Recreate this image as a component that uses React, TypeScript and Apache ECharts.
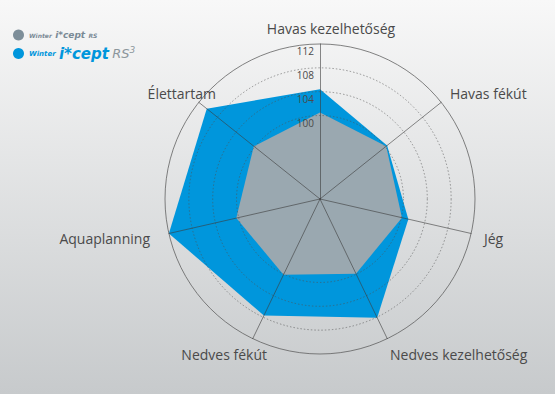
import React, { useEffect, useRef } from "react";
import * as echarts from "echarts";

// Indicators in counter-clockwise order starting at the top (ECharts radar default direction)
const indicatorNames = [
  "Havas kezelhetőség",
  "Élettartam",
  "Aquaplanning",
  "Nedves fékút",
  "Nedves kezelhetőség",
  "Jég",
  "Havas fékút",
];
const seriesNames = ["Winter i*cept RS", "Winter i*cept RS³"];
const valuesRS = [100.5, 100.2, 100.4, 100.1, 99.9, 100.1, 100.2];
const valuesRS3 = [104.4, 110.3, 112, 107.7, 108.1, 101.2, 100.4];
const tickLabels = [100, 104, 108, 112];
const axisMin = 86;
const axisMax = 112;

// label layout for indicator names (text anchors)
const nameLayout: Record<string, { x: number; y: number; align: string }> = {
  "Havas kezelhetőség": { x: 331, y: 28, align: "center" },
  "Havas fékút": { x: 450, y: 93, align: "left" },
  "Jég": { x: 484, y: 238, align: "left" },
  "Nedves kezelhetőség": { x: 390, y: 354, align: "left" },
  "Nedves fékút": { x: 267, y: 354, align: "right" },
  "Aquaplanning": { x: 150, y: 238, align: "right" },
  "Élettartam": { x: 216, y: 93, align: "right" },
};

export default function App() {
  const ref = useRef<HTMLDivElement>(null);
  useEffect(() => {
    if (!ref.current) return;
    const chart = echarts.init(ref.current, undefined, { renderer: "svg" });
    const ringCount = Math.round((axisMax - axisMin) / 2) + 1;
    const ringColors: string[] = [];
    for (let i = 0; i < ringCount; i++) {
      const v = axisMin + i * 2;
      ringColors.push(tickLabels.indexOf(v) >= 0 && v !== axisMax ? "rgba(80,80,80,0.55)" : "rgba(0,0,0,0)");
    }
    const center = ["320", "199"];
    const font = "'Open Sans', 'Noto Sans', sans-serif";
    chart.setOption({
      animation: false,
      backgroundColor: new echarts.graphic.LinearGradient(0, 0, 0, 1, [
        { offset: 0, color: "#f8f8f8" },
        { offset: 1, color: "#c7cacc" },
      ]),
      legend: {
        orient: "vertical",
        left: 8,
        top: 24,
        itemGap: 4,
        itemWidth: 11,
        itemHeight: 11,
        icon: "circle",
        data: seriesNames,
        formatter: (name: string) => {
          if (name === seriesNames[0]) return "{a|Winter} {b|i*cept} {c|RS}";
          return "{d|Winter} {e|i*cept} {f|RS}{g|3}";
        },
        textStyle: {
          rich: {
            a: { fontFamily: "DejaVu Sans", fontWeight: "bold", fontStyle: "italic", fontSize: 6, color: "#7a8a96" },
            b: { fontFamily: "DejaVu Sans", fontWeight: "bold", fontStyle: "italic", fontSize: 9, color: "#7a8a96" },
            c: { fontFamily: "DejaVu Sans", fontWeight: "bold", fontStyle: "italic", fontSize: 6, color: "#7a8a96" },
            d: { fontFamily: "DejaVu Sans", fontWeight: "bold", fontStyle: "italic", fontSize: 7, color: "#0096dc" },
            e: { fontFamily: "DejaVu Sans", fontWeight: "bold", fontStyle: "italic", fontSize: 15, color: "#0096dc" },
            f: { fontFamily: "DejaVu Sans", fontStyle: "italic", fontSize: 13, color: "#8c969c" },
            g: { fontFamily: "DejaVu Sans", fontStyle: "italic", fontSize: 9, color: "#8c969c", verticalAlign: "top", padding: [0, 0, 8, 0] },
          },
        },
      },
      radar: [
        {
          center,
          radius: 155,
          startAngle: 90,
          z: 3,
          shape: "circle",
          splitNumber: Math.round((axisMax - axisMin) / 2),
          indicator: indicatorNames.map((n, i) => {
            const ind: any = { name: n, min: axisMin, max: axisMax };
            if (i === 0) {
              ind.axisLabel = {
                show: true,
                formatter: (v: number) => (tickLabels.indexOf(Math.round(v)) >= 0 && Math.abs(v - Math.round(v)) < 1e-6 ? String(Math.round(v)) : ""),
              };
            }
            return ind;
          }),
          axisName: { show: false },
          axisLine: { lineStyle: { color: "rgba(60,60,60,0.6)", width: 1 } },
          splitLine: { lineStyle: { color: ringColors, width: 1, type: [1.5, 2] } },
          splitArea: { show: false },
          axisTick: { show: false },
          axisLabel: {
            show: false,
            color: "#4a4a4a",
            fontSize: 10,
            fontFamily: font,
            margin: 6,
            verticalAlign: "top",
            padding: [2, 0, 0, 0],
          },
        },
        {
          center,
          radius: 155,
          startAngle: 90,
          z: 3,
          shape: "circle",
          splitNumber: 1,
          indicator: indicatorNames.map((n) => ({ name: n, min: axisMin, max: axisMax })),
          axisName: { show: false },
          axisLine: { show: false },
          splitLine: { lineStyle: { color: ["rgba(0,0,0,0)", "rgba(90,90,90,0.75)"], width: 1 } },
          splitArea: { show: false },
          axisTick: { show: false },
          axisLabel: { show: false },
        },
      ],
      series: [
        {
          type: "radar",
          radarIndex: 0,
          symbol: "none",
          z: 2,
          data: [
            {
              name: seriesNames[1],
              value: valuesRS3,
              itemStyle: { color: "#0096dc" },
              lineStyle: { width: 0, color: "#0096dc" },
              areaStyle: { color: "#0096dc", opacity: 1 },
            },
            {
              name: seriesNames[0],
              value: valuesRS,
              itemStyle: { color: "#7d8e99" },
              lineStyle: { width: 0, color: "#9aa8b0" },
              areaStyle: { color: "#9aa8b0", opacity: 1 },
            },
          ],
        },
      ],
      graphic: indicatorNames.map((n) => ({
        type: "text",
        x: nameLayout[n].x,
        y: nameLayout[n].y,
        z: 5,
        style: {
          text: n,
          fill: "#4a4a4a",
          fontSize: 14,
          fontFamily: font,
          align: nameLayout[n].align,
          verticalAlign: "middle",
        },
      })),
    });
    return () => chart.dispose();
  }, []);
  return (
    <div
      ref={ref}
      style={{ position: "absolute", left: 0, top: 0, width: 555, height: 394 }}
    />
  );
}
